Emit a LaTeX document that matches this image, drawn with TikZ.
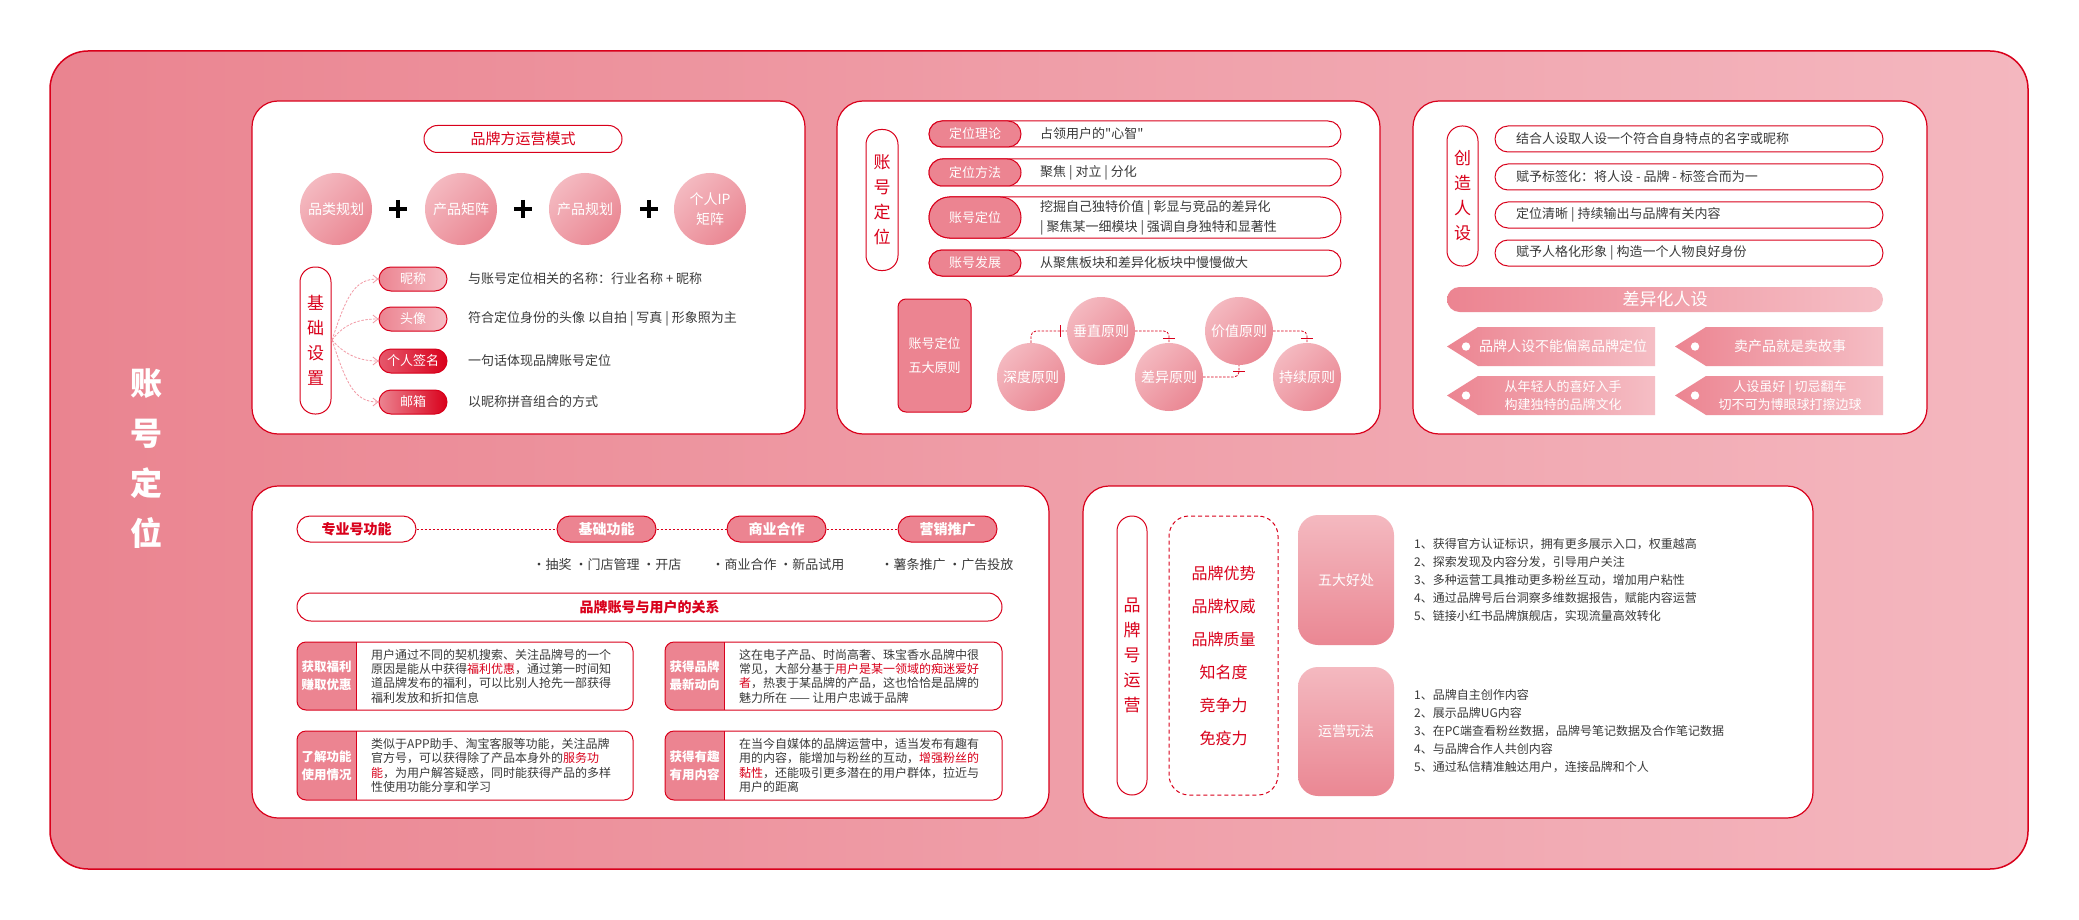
\documentclass[tikz,border=0pt]{standalone}
\usepackage{fontspec}
\setmainfont{Noto Sans CJK SC}[Ligatures=TeXOff]
\usetikzlibrary{arrows.meta,shapes.misc}
\definecolor{rd}{HTML}{D9001B}
\definecolor{pk}{HTML}{EC8491}
\definecolor{lpk}{HTML}{F5BEC5}
\definecolor{bgL}{HTML}{EA8490}
\definecolor{bgR}{HTML}{F4B7BF}
\definecolor{tx}{HTML}{3A3A3A}
\definecolor{cl}{HTML}{F4B9C0}
\definecolor{cd}{HTML}{EA8793}
\definecolor{arrc}{HTML}{F29AA5}
\definecolor{sred}{HTML}{E6586C}
\newcommand\myfs[2]{\fontsize{#1}{#2}\selectfont}
\begin{document}
\begin{tikzpicture}[x=1pt,y=-1pt,
  panel/.style={draw=rd,fill=white,line width=1.2pt,rounded corners=26pt},
  vpill/.style={draw=rd,fill=white,line width=1pt,rounded corners=15pt,text=rd,align=center,inner sep=0pt,font=\myfs{17}{25}},
  pill/.style={rounded rectangle,draw=rd,line width=1pt,inner sep=0pt,minimum height=26pt},
  lab/.style={rounded rectangle,draw=rd,line width=1pt,fill=pk,text=white,inner sep=0pt,minimum height=26pt,font=\myfs{13}{16}},
  desc/.style={text=tx,font=\myfs{13}{16},anchor=west,inner sep=0pt},
  circ/.style={circle,inner sep=0pt,minimum size=72pt,top color=cl,bottom color=cd,shading angle=45,text=white,font=\myfs{14}{20},align=center},
  arr/.style={draw=arrc,line width=0.8pt,dash pattern=on 2.5pt off 1.5pt,-{Straight Barb[length=5pt,width=8pt]}},
  dline/.style={draw=rd,line width=0.8pt,dash pattern=on 2.5pt off 1.5pt},
  cross/.style={draw=rd,line width=0.9pt},
  tagtxt/.style={text=white,font=\myfs{14}{18},align=center,inner sep=0pt},
  cardlab/.style={text=white,align=center,font=\myfs{12.5}{18}\bfseries,inner sep=0pt},
  cardtxt/.style={text=tx,anchor=west,align=left,font=\myfs{12}{14.3},inner sep=0pt},
  listtxt/.style={text=tx,anchor=west,align=left,font=\myfs{12}{18},inner sep=0pt}
]
\useasboundingbox (0,0) rectangle (2079,920);
\fill[white] (0,0) rectangle (2079,920);
% outer frame
\path[draw=rd,line width=1.5pt,left color=bgL,right color=bgR,rounded corners=38pt] (50,51) rectangle (2028,869);
\node[font=\myfs{32}{50}\bfseries,text=white,align=center] (title) at (146,459) {账\\号\\定\\位};

% panels
\draw[panel] (252,101) rectangle (805,434);
\draw[panel] (837,101) rectangle (1380,434);
\draw[panel] (1413,101) rectangle (1927,434);
\draw[panel] (252,486) rectangle (1049,818);
\draw[panel] (1083,486) rectangle (1813,818);

%% ---------- top-left panel
\node[pill,fill=white,minimum width=198pt,minimum height=27pt,text=rd,font=\myfs{15}{18}] (mode) at (523,139) {品牌方运营模式};
\node[circ] (c1) at (336,209) {品类规划};
\node[circ] (c2) at (461,209) {产品矩阵};
\node[circ] (c3) at (585,209) {产品规划};
\node[circ] (c4) at (710,209) {个人IP\\矩阵};
\draw[line width=4.5pt] (389,209) -- (407,209) (398,200) -- (398,218);
\draw[line width=4.5pt] (514,209) -- (532,209) (523,200) -- (523,218);
\draw[line width=4.5pt] (640,209) -- (658,209) (649,200) -- (649,218);

\node[vpill,minimum width=31pt,minimum height=147pt] (jc) at (315.5,340.5) {基\\础\\设\\置};
\node[pill,minimum width=68pt,minimum height=24pt,left color=pk,right color=lpk,text=white,font=\myfs{13}{16}] (p1) at (413,279) {昵称};
\node[pill,minimum width=68pt,minimum height=24pt,left color=pk,right color=lpk,text=white,font=\myfs{13}{16}] (p2) at (413,319) {头像};
\node[pill,minimum width=68pt,minimum height=24pt,left color=sred,right color=rd,text=white,font=\myfs{13}{16}] (p3) at (413,361) {个人签名};
\node[pill,minimum width=68pt,minimum height=24pt,left color=pk,right color=rd,text=white,font=\myfs{13}{16}] (p4) at (413,402) {邮箱};
\coordinate (fan) at (332,340);
\draw[arr] (fan) .. controls +(14,-42) and +(-25,0) .. (p1.west);
\draw[arr] (fan) .. controls +(12,-16) and +(-20,0) .. (p2.west);
\draw[arr] (fan) .. controls +(12,14) and +(-20,0) .. (p3.west);
\draw[arr] (fan) .. controls +(14,42) and +(-25,0) .. (p4.west);
\node[desc] (d1) at (468,279) {与账号定位相关的名称：行业名称 + 昵称};
\node[desc] (d2) at (468,319) {符合定位身份的头像 以自拍 | 写真 | 形象照为主};
\node[desc] (d3) at (468,361) {一句话体现品牌账号定位};
\node[desc] (d4) at (468,402) {以昵称拼音组合的方式};

%% ---------- top-middle panel
\node[vpill,minimum width=32pt,minimum height=141pt] (zh) at (882,200) {账\\号\\定\\位};
\node[pill,fill=white,minimum width=412pt] (r1) at (1135,134) {};
\node[lab,minimum width=92pt] (l1) at (975,134) {定位理论};
\node[desc] (t1) at (1040,134) {占领用户的"心智"};
\node[pill,fill=white,minimum width=412pt,minimum height=27pt] (r2) at (1135,172.5) {};
\node[lab,minimum width=92pt,minimum height=27pt] (l2) at (975,172.5) {定位方法};
\node[desc] (t2) at (1040,172.5) {聚焦 | 对立 | 分化};
\node[pill,fill=white,minimum width=412pt,minimum height=41pt] (r3) at (1135,217.5) {};
\node[lab,minimum width=92pt,minimum height=41pt] (l3) at (975,217.5) {账号定位};
\node[desc,align=left,font=\myfs{13}{20}] (t3) at (1040,218) {挖掘自己独特价值 | 彰显与竞品的差异化\\| 聚焦某一细模块 | 强调自身独特和显著性};
\node[pill,fill=white,minimum width=412pt] (r4) at (1135,263) {};
\node[lab,minimum width=92pt] (l4) at (975,263) {账号发展};
\node[desc] (t4) at (1040,263) {从聚焦板块和差异化板块中慢慢做大};

\node[draw=rd,line width=1pt,fill=pk,rounded corners=8pt,minimum width=73pt,minimum height=113pt,text=white,font=\myfs{13}{24},align=center] (wd) at (934.5,355.5) {账号定位\\五大原则};
\node[circ,minimum size=68pt] (c21) at (1031,377) {深度原则};
\node[circ,minimum size=68pt] (c22) at (1101,331) {垂直原则};
\node[circ,minimum size=68pt] (c23) at (1169,377) {差异原则};
\node[circ,minimum size=68pt] (c24) at (1239,331) {价值原则};
\node[circ,minimum size=68pt] (c25) at (1307,377) {持续原则};
\draw[dline,rounded corners=5pt] (c21.north) |- (c22.west);
\draw[dline,rounded corners=5pt] (c22.east) -| (c23.north);
\draw[dline,rounded corners=5pt] (c23.east) -| (c24.south);
\draw[dline,rounded corners=5pt] (c24.east) -| (c25.north);
\draw[cross] (1060,325) -- (1060,337);
\draw[cross] (1163,338) -- (1175,338);
\draw[cross] (1233,371) -- (1245,371);
\draw[cross] (1301,338) -- (1313,338);

%% ---------- top-right panel
\node[vpill,minimum width=31pt,minimum height=140pt] (cz) at (1462.5,196) {创\\造\\人\\设};
\node[pill,fill=white,minimum width=388pt] (s1) at (1689,139) {};
\node[desc] (u1) at (1516,139) {结合人设取人设一个符合自身特点的名字或昵称};
\node[pill,fill=white,minimum width=388pt] (s2) at (1689,177) {};
\node[desc] (u2) at (1516,177) {赋予标签化：将人设 - 品牌 - 标签合而为一};
\node[pill,fill=white,minimum width=388pt] (s3) at (1689,215) {};
\node[desc] (u3) at (1516,215) {定位清晰 | 持续输出与品牌有关内容};
\node[pill,fill=white,minimum width=388pt] (s4) at (1689,253) {};
\node[desc] (u4) at (1516,253) {赋予人格化形象 | 构造一个人物良好身份};
\node[rounded rectangle,inner sep=0pt,minimum width=436pt,minimum height=25pt,left color=pk,right color=lpk,text=white,font=\myfs{17}{20}] (cy) at (1665,299.5) {差异化人设};

\shade[left color=pk,right color=lpk] (1447,346.5) -- (1478,327) -- (1655,327) -- (1655,366) -- (1478,366) -- cycle;
\shade[left color=pk,right color=lpk] (1675,346.5) -- (1706,327) -- (1883,327) -- (1883,366) -- (1706,366) -- cycle;
\shade[left color=pk,right color=lpk] (1447,395.5) -- (1478,376) -- (1655,376) -- (1655,415) -- (1478,415) -- cycle;
\shade[left color=pk,right color=lpk] (1675,395.5) -- (1706,376) -- (1883,376) -- (1883,415) -- (1706,415) -- cycle;
\fill[white] (1466,346.5) circle (4.2pt) (1695,346.5) circle (4.2pt) (1466,395.5) circle (4.2pt) (1695,395.5) circle (4.2pt);
\node[tagtxt] (g1) at (1563,346.5) {品牌人设不能偏离品牌定位};
\node[tagtxt] (g2) at (1790,346.5) {卖产品就是卖故事};
\node[tagtxt,font=\myfs{13}{18}] (g3) at (1563,396) {从年轻人的喜好入手\\构建独特的品牌文化};
\node[tagtxt,font=\myfs{13}{18}] (g4) at (1790,396) {人设虽好 | 切忌翻车\\切不可为博眼球打擦边球};

%% ---------- bottom-left panel
\node[pill,fill=white,minimum width=119pt,text=rd,font=\myfs{14}{16}\bfseries] (zy) at (356.5,529) {专业号功能};
\node[pill,fill=pk,minimum width=99pt,text=white,font=\myfs{14}{16}\bfseries] (jg) at (606.5,529) {基础功能};
\node[pill,fill=pk,minimum width=99pt,text=white,font=\myfs{14}{16}\bfseries] (sy) at (776.5,529) {商业合作};
\node[pill,fill=pk,minimum width=99pt,text=white,font=\myfs{14}{16}\bfseries] (yx) at (947.5,529) {营销推广};
\draw[dline] (zy.east) -- (jg.west);
\draw[dline] (jg.east) -- (sy.west);
\draw[dline] (sy.east) -- (yx.west);
\node[text=tx,font=\myfs{13}{16},inner sep=0pt] (f1) at (607,565) {·抽奖 ·门店管理 ·开店};
\node[text=tx,font=\myfs{13}{16},inner sep=0pt] (f2) at (778,565) {·商业合作 ·新品试用};
\node[text=tx,font=\myfs{13}{16},inner sep=0pt] (f3) at (947,565) {·薯条推广 ·广告投放};
\node[pill,fill=white,minimum width=705pt,minimum height=28pt,text=rd,font=\myfs{14}{16}\bfseries] (gx) at (649.5,607) {品牌账号与用户的关系};

% cards
\begin{scope}
\clip[rounded corners=9pt] (297,642) rectangle (633,710);
\fill[white] (297,642) rectangle (633,710);
\fill[pk] (297,642) rectangle (356,710);
\end{scope}
\draw[rd,line width=1pt] (356,642) -- (356,710);
\draw[rd,line width=1pt,rounded corners=9pt] (297,642) rectangle (633,710);
\node[cardlab] (k1) at (326.5,676) {获取福利\\赚取优惠};
\node[cardtxt] (b1) at (371,676) {用户通过不同的契机搜索、关注品牌号的一个\\原因是能从中获得\textcolor{rd}{福利优惠}，通过第一时间知\\道品牌发布的福利，可以比别人抢先一部获得\\福利发放和折扣信息};

\begin{scope}
\clip[rounded corners=9pt] (665,642) rectangle (1002,710);
\fill[white] (665,642) rectangle (1002,710);
\fill[pk] (665,642) rectangle (724,710);
\end{scope}
\draw[rd,line width=1pt] (724,642) -- (724,710);
\draw[rd,line width=1pt,rounded corners=9pt] (665,642) rectangle (1002,710);
\node[cardlab] (k2) at (694.5,676) {获得品牌\\最新动向};
\node[cardtxt] (b2) at (739,676) {这在电子产品、时尚高奢、珠宝香水品牌中很\\常见，大部分基于\textcolor{rd}{用户是某一领域的痴迷爱好}\\\textcolor{rd}{者}，热衷于某品牌的产品，这也恰恰是品牌的\\魅力所在 —— 让用户忠诚于品牌};

\begin{scope}
\clip[rounded corners=9pt] (297,731) rectangle (633,800);
\fill[white] (297,731) rectangle (633,800);
\fill[pk] (297,731) rectangle (356,800);
\end{scope}
\draw[rd,line width=1pt] (356,731) -- (356,800);
\draw[rd,line width=1pt,rounded corners=9pt] (297,731) rectangle (633,800);
\node[cardlab] (k3) at (326.5,765.5) {了解功能\\使用情况};
\node[cardtxt] (b3) at (371,765.5) {类似于APP助手、淘宝客服等功能，关注品牌\\官方号，可以获得除了产品本身外的\textcolor{rd}{服务功}\\\textcolor{rd}{能}，为用户解答疑惑，同时能获得产品的多样\\性使用功能分享和学习};

\begin{scope}
\clip[rounded corners=9pt] (665,731) rectangle (1002,800);
\fill[white] (665,731) rectangle (1002,800);
\fill[pk] (665,731) rectangle (724,800);
\end{scope}
\draw[rd,line width=1pt] (724,731) -- (724,800);
\draw[rd,line width=1pt,rounded corners=9pt] (665,731) rectangle (1002,800);
\node[cardlab] (k4) at (694.5,765.5) {获得有趣\\有用内容};
\node[cardtxt] (b4) at (739,765.5) {在当今自媒体的品牌运营中，适当发布有趣有\\用的内容，能增加与粉丝的互动，\textcolor{rd}{增强粉丝的}\\\textcolor{rd}{黏性}，还能吸引更多潜在的用户群体，拉近与\\用户的距离};

%% ---------- bottom-right panel
\node[vpill,minimum width=30pt,minimum height=279pt] (pp) at (1132,655.5) {品\\牌\\号\\运\\营};
\node[draw=rd,line width=1pt,dash pattern=on 4pt off 3pt,rounded corners=20pt,minimum width=109pt,minimum height=279pt] (dbox) at (1223.5,655.5) {};
\node[text=rd,font=\myfs{16}{33},align=center,inner sep=0pt] (adv) at (1223.5,655.5) {品牌优势\\品牌权威\\品牌质量\\知名度\\竞争力\\免疫力};
\node[rounded corners=20pt,top color=cl,bottom color=cd,minimum width=96pt,minimum height=130pt,text=white,font=\myfs{14}{18}] (wb) at (1346,580) {五大好处};
\node[rounded corners=20pt,top color=cl,bottom color=cd,minimum width=96pt,minimum height=129pt,text=white,font=\myfs{14}{18}] (yf) at (1346,731.5) {运营玩法};
\node[listtxt] (L1) at (1414,580) {1、获得官方认证标识，拥有更多展示入口，权重越高\\2、探索发现及内容分发，引导用户关注\\3、多种运营工具推动更多粉丝互动，增加用户粘性\\4、通过品牌号后台洞察多维数据报告，赋能内容运营\\5、链接小红书品牌旗舰店，实现流量高效转化};
\node[listtxt] (L2) at (1414,731) {1、品牌自主创作内容\\2、展示品牌UG内容\\3、在PC端查看粉丝数据，品牌号笔记数据及合作笔记数据\\4、与品牌合作人共创内容\\5、通过私信精准触达用户，连接品牌和个人};
\end{tikzpicture}
\end{document}
